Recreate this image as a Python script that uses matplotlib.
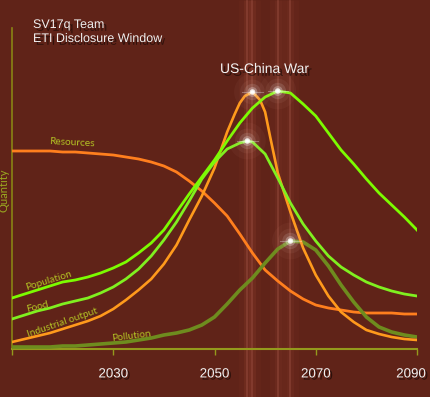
import matplotlib
matplotlib.use("Agg")
import matplotlib.pyplot as plt
import matplotlib.patheffects as pe
from matplotlib.transforms import blended_transform_factory, ScaledTranslation
import numpy as np

# ---------------- data ----------------
grid = [2010, 2012.5, 2015, 2017.5, 2020, 2022.5, 2025, 2027.5, 2030, 2032.5, 2035, 2037.5,
        2040, 2042.5, 2045, 2047.5, 2050, 2052.5, 2055, 2057.5, 2060, 2062.5, 2065, 2067.5,
        2070, 2072.5, 2075, 2077.5, 2080, 2082.5, 2085, 2087.5, 2090]

pop_years = grid
pop_vals = [51, 55, 59, 63, 67, 69, 72, 76, 81, 87, 96, 106,
            119, 137, 155, 172, 189, 208, 226, 241, 252, 258, 256, 245,
            233, 216, 199, 185, 170, 156, 144, 132, 119]

food_years = [2010, 2012.5, 2015, 2017.5, 2020, 2022.5, 2025, 2027.5, 2030, 2032.5, 2035, 2037.5,
              2040, 2042.5, 2045, 2047.5, 2050, 2052.5, 2055, 2056.5, 2057.5, 2060, 2062.5, 2065,
              2067.5, 2070, 2072.5, 2075, 2077.5, 2080, 2082.5, 2085, 2087.5, 2090]
food_vals = [30, 34, 38, 41, 45, 48, 51, 56, 62, 70, 80, 93,
             109, 127, 148, 170, 187, 200, 206, 208, 207, 195, 171, 146,
             125, 108, 93, 82, 74, 67, 62, 58, 55, 53]

ind_years = [2010, 2012.5, 2015, 2017.5, 2020, 2022.5, 2025, 2027.5, 2030, 2032.5, 2035, 2037.5,
             2040, 2042.5, 2045, 2047.5, 2050, 2052.5, 2054, 2055, 2056, 2057.5, 2059, 2060, 2061,
             2062.5, 2065, 2067.5, 2070, 2072.5, 2075, 2077.5, 2080, 2082.5, 2085, 2087.5, 2090]
ind_vals = [7, 10, 13, 16, 20, 24, 28, 33, 40, 49, 59, 70,
            85, 104, 129, 153, 181, 217, 235, 246, 253, 257, 249, 237, 212,
            176, 137, 101, 74, 53, 37, 27, 19, 15, 12, 10, 9]

res_years = grid
res_vals = [198, 198, 198, 198, 197, 197, 196, 195, 194, 192, 190, 187,
            183, 177, 168, 158, 146, 133, 115, 96, 79, 68, 58, 50,
            44, 41, 39, 37, 36, 36, 36, 35, 35]

pol_years = grid
pol_vals = [2, 2, 2, 2, 3, 3, 4, 5, 6, 7, 9, 11,
            14, 16, 19, 24, 32, 45, 59, 71, 86, 100, 108, 107,
            99, 83, 64, 47, 32, 22, 17, 14, 12]

xticks = [2010, 2030, 2050, 2070, 2090]
xtick_labels = ["", "2030", "2050", "2070", "2090"]

series_labels = ["Population", "Food", "Industrial output", "Resources", "Pollution"]

# ---------------- style ----------------
BG = "#602318"
LABEL_C = "#b4c424"
AXIS_C = "#949a1c"

W, H = 430, 397
fig = plt.figure(figsize=(W / 100, H / 100), dpi=100, facecolor=BG)
ax = fig.add_axes([12 / W, (H - 349) / H, (417 - 12) / W, (349 - 28) / H])
ax.set_facecolor(BG)
ax.set_xlim(2010, 2090)
ax.set_ylim(0, 321)

trans = blended_transform_factory(ax.transData, fig.transFigure)

# peaks of the four growing series
peaks = []
for yrs, vals in [(ind_years, ind_vals), (pop_years, pop_vals),
                  (food_years, food_vals), (pol_years, pol_vals)]:
    i = int(np.argmax(vals))
    peaks.append((yrs[i], vals[i]))

# vertical light streaks through the peaks
for px, py in peaks:
    for lw, a, c in [(12, 0.05, "#c05a40"), (5, 0.07, "#c8624a"), (1.2, 0.22, "#d88070")]:
        ax.plot([px, px], [0, 1], transform=trans, color=c, lw=lw, alpha=a,
                clip_on=False, zorder=1, solid_capstyle="butt")

# lines
ax.plot(res_years, res_vals, color="#ff7f1e", lw=2.0, zorder=3, solid_joinstyle="round")
ax.plot(pol_years, pol_vals, color="#6e8c1e", lw=2.6, zorder=3, solid_joinstyle="round")
ax.plot(ind_years, ind_vals, color="#ff9a1c", lw=1.9, zorder=4, solid_joinstyle="round")
ax.plot(food_years, food_vals, color="#80f020", lw=2.0, zorder=5, solid_joinstyle="round")
ax.plot(pop_years, pop_vals, color="#7cfc00", lw=2.0, zorder=5, solid_joinstyle="round")

# glows at peaks
for px, py in peaks:
    for s, a, c in [(700, 0.05, "#e8a090"), (320, 0.07, "#f0c0b0"), (140, 0.12, "white"),
                    (50, 0.28, "white"), (16, 0.8, "white"), (5, 1.0, "white")]:
        ax.scatter([px], [py], s=s, color=c, alpha=a, edgecolors="none", zorder=6)
    ax.plot([px - 2.0, px + 2.0], [py, py], color="white", lw=0.8, alpha=0.3, zorder=6)

# spines / ticks
for s in ["top", "right"]:
    ax.spines[s].set_visible(False)
ax.spines["left"].set_color("#8a8414")
ax.spines["left"].set_linewidth(1.2)
ax.spines["bottom"].set_color(AXIS_C)
ax.spines["bottom"].set_linewidth(1.5)
ax.set_yticks([])
ax.set_xticks(xticks)
ax.set_xticklabels(xtick_labels)
ax.tick_params(axis="x", direction="out", length=4, width=1, color=AXIS_C,
               pad=10, labelsize=9.6, labelcolor="#f2f2f2")
shadow = [pe.withSimplePatchShadow(offset=(1.5, -1.5), shadow_rgbFace="black", alpha=0.55)]
labs = ax.get_xticklabels()
for lab in labs:
    lab.set_fontfamily("Liberation Sans")
    lab.set_path_effects(shadow)
labs[-1].set_transform(labs[-1].get_transform() + ScaledTranslation(-6 / 100, 0, fig.dpi_scale_trans))

# y label
fig.text(4 / W, 1 - 190 / H, "Quantity", rotation=90, color="#9aa820", fontsize=8,
         family="Lato", ha="center", va="center")

# series labels
def px2d(x, y):
    return 2010 + (x - 12) / 405 * 80, 349 - y

lab_specs = [
    ("Population", 49, 281, 17),
    ("Food", 37, 307, 14),
    ("Industrial output", 62, 323, 19),
    ("Resources", 72, 143, -3),
    ("Pollution", 131, 336, 7),
]
for name, x, y, rot in lab_specs:
    dx, dy = px2d(x, y)
    ax.text(dx, dy, name, color=LABEL_C, fontsize=7.3, family="Lato", rotation=rot,
            ha="center", va="center", rotation_mode="anchor", zorder=7)

# titles
tshadow = [pe.withSimplePatchShadow(offset=(2, -2), shadow_rgbFace="black", alpha=0.5)]
fig.text(33 / W, 1 - 28 / H, "SV17q Team", color="#f0eeee", fontsize=9, family="Liberation Sans",
         va="baseline", path_effects=tshadow)
fig.text(33 / W, 1 - 42 / H, "ETI Disclosure Window", color="#f0eeee", fontsize=9,
         family="Liberation Sans", va="baseline", path_effects=tshadow)
fig.text(220 / W, 1 - 73 / H, "US-China War", color="#f4f2f2", fontsize=10,
         family="Liberation Sans", va="baseline", path_effects=tshadow)

fig.savefig("out.png", dpi=100, facecolor=BG)
